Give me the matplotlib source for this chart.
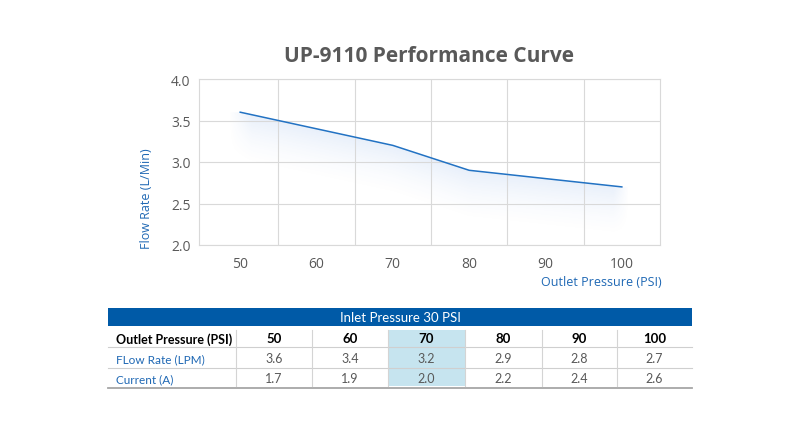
import numpy as np
import matplotlib
matplotlib.use("Agg")
import matplotlib.pyplot as plt
from matplotlib.patches import Rectangle

# data
pressure = [50, 60, 70, 80, 90, 100]
flow_rate = [3.6, 3.4, 3.2, 2.9, 2.8, 2.7]
current = [1.7, 1.9, 2.0, 2.2, 2.4, 2.6]
row_labels = ["Outlet Pressure (PSI)", "FLow Rate (LPM)", "Current (A)"]
table_title = "Inlet Pressure 30 PSI"
highlight_col = 2  # the 70 PSI column

BLUE_LINE = "#2272C3"
BLUE_TXT = "#1F68B4"
HEADER_BLUE = "#005AA7"
GREY_TXT = "#595959"
GRID = "#D9D9D9"

W, H = 800, 435
fig = plt.figure(figsize=(W / 100, H / 100), dpi=100)
plt.rcParams["font.family"] = ["Open Sans", "DejaVu Sans"]


def fx(px):
    return px / W


def fy(py):
    return 1 - py / H


# ---- chart ----
ax = fig.add_axes([fx(199), fy(246), fx(660) - fx(199), fy(80) - fy(246)])
ax.set_xlim(44.6, 105)
ax.set_ylim(2.0, 4.0)

# soft shadow under the line
gx = np.linspace(47, 102, 400)
gy = np.linspace(2.0, 4.0, 300)
GX, GY = np.meshgrid(gx, gy)
line_y = np.interp(GX, pressure, flow_rate)
d = line_y - GY
alpha = np.clip(1 - d / 0.65, 0, 1) ** 1.8 * (d >= 0.0)
edge = np.clip((GX - 48.5) / 3.0, 0, 1) * np.clip((101 - GX) / 2.0, 0, 1)
alpha = alpha * edge * 0.12
img = np.zeros(GX.shape + (4,))
img[..., 0] = 0.25
img[..., 1] = 0.50
img[..., 2] = 0.85
img[..., 3] = alpha
ax.imshow(img, extent=[gx[0], gx[-1], gy[0], gy[-1]], origin="lower",
          aspect="auto", zorder=1, interpolation="bilinear")

ax.plot(pressure, flow_rate, color=BLUE_LINE, lw=1.1, zorder=3)

ax.set_xticks(pressure)
ax.set_xticks([55, 65, 75, 85, 95], minor=True)
ax.set_yticks([2.0, 2.5, 3.0, 3.5, 4.0])
ax.set_yticklabels(["2.0", "2.5", "3.0", "3.5", "4.0"])
ax.grid(True, which="minor", axis="x", color=GRID, lw=0.8)
ax.grid(True, which="major", axis="y", color=GRID, lw=0.8)
ax.tick_params(which="both", length=0)
ax.tick_params(axis="both", labelsize=10, colors=GREY_TXT, pad=8)
ax.tick_params(axis="y", pad=6)
for s in ax.spines.values():
    s.set_color(GRID)
    s.set_linewidth(0.8)

fig.text(fx(429), fy(57), "UP-9110 Performance Curve", ha="center", va="center",
         fontsize=15, fontweight="bold", color=GREY_TXT)
fig.text(fx(146), fy(199), "Flow Rate (L/Min)", rotation=90, ha="center", va="center",
         fontsize=9, color=BLUE_TXT)
fig.text(fx(662), fy(283), "Outlet Pressure (PSI)", ha="right", va="center",
         fontsize=9, color=BLUE_TXT)

# ---- table ----
col_edges = [108, 236, 312, 388, 465, 542, 617, 692]
row_edges = [329, 348, 369, 388]
tab = fig.add_axes([0, 0, 1, 1])
tab.set_xlim(0, W)
tab.set_ylim(H, 0)
tab.axis("off")

tab.add_patch(Rectangle((108, 309), 692 - 108, 18, color=HEADER_BLUE, lw=0))
tab.text(400, 318, table_title, ha="center", va="center", color="white",
         fontsize=9.5, family=["Lato", "DejaVu Sans"])

tab.add_patch(Rectangle((col_edges[highlight_col + 1], 331),
                        col_edges[highlight_col + 2] - col_edges[highlight_col + 1],
                        387 - 331, color="#C6E4EF", lw=0))

for yy in row_edges[1:3]:
    tab.plot([108, 692], [yy, yy], color="#CFCFCF", lw=0.8)
tab.plot([108, 692], [389, 389], color="#A6A6A6", lw=1.3)
for xx in col_edges[1:-1]:
    tab.plot([xx, xx], [331, 387], color="#D4D4D4", lw=0.8)

rows = [pressure, flow_rate, current]
for r, (lab, vals) in enumerate(zip(row_labels, rows)):
    yc = (row_edges[r] + row_edges[r + 1]) / 2 + 1
    bold = r == 0
    tab.text(116, yc, lab, ha="left", va="center",
             fontsize=9 if bold else 8.5, fontweight="bold" if bold else "normal",
             color="black" if bold else BLUE_TXT, family=["Lato", "DejaVu Sans"])
    for c, v in enumerate(vals):
        xc = (col_edges[c + 1] + col_edges[c + 2]) / 2
        txt = str(v) if bold else f"{v:.1f}"
        tab.text(xc, yc, txt, ha="center", va="center",
                 fontsize=9.5 if bold else 9, fontweight="bold" if bold else "normal",
                 color="black" if bold else GREY_TXT, family=["Lato", "DejaVu Sans"])

fig.savefig("out.png", dpi=100)
